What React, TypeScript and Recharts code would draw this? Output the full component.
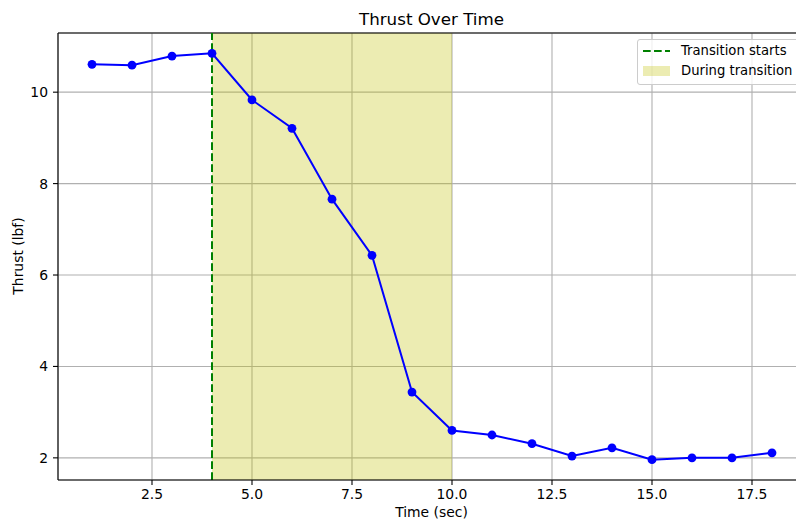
import { LineChart, Line, XAxis, YAxis, CartesianGrid, ReferenceLine, ReferenceArea } from 'recharts'

// ── Data ───────────────────────────────────────────────────────────────────

const times = [1, 2, 3, 4, 5, 6, 7, 8, 9, 10, 11, 12, 13, 14, 15, 16, 17, 18]
const thrust = [10.61, 10.59, 10.79, 10.85, 9.83, 9.21, 7.66, 6.43, 3.44, 2.6, 2.5, 2.31, 2.04, 2.22, 1.96, 2.0, 2.0, 2.11]
const xTicks = [2.5, 5.0, 7.5, 10.0, 12.5, 15.0, 17.5]
const yTicks = [2, 4, 6, 8, 10]
const transitionStart = 4
const transitionEnd = 10

const data = times.map((t, i) => ({ time: t, thrust: thrust[i] }))

const FONT = '"DejaVu Sans", sans-serif'
const X_DOMAIN: [number, number] = [0.15, 18.85]
const Y_DOMAIN: [number, number] = [1.5155, 11.2945]

function LegendBox() {
  return (
    <div style={{
      position: 'absolute', left: 637, top: 39, width: 170, height: 46,
      background: 'rgba(255,255,255,0.8)', border: '1px solid #cccccc', borderRadius: 3,
      fontFamily: FONT, fontSize: 13.2, color: '#000', boxSizing: 'border-box',
    }}>
      <div style={{ position: 'absolute', left: 5, top: 3, display: 'flex', alignItems: 'center', whiteSpace: 'nowrap' }}>
        <svg width={27} height={10}><line x1={0} y1={5} x2={27} y2={5} stroke="#008000" strokeWidth={2} strokeDasharray="7.7 3.3" /></svg>
        <span style={{ marginLeft: 11 }}>Transition starts</span>
      </div>
      <div style={{ position: 'absolute', left: 5, top: 23, display: 'flex', alignItems: 'center', whiteSpace: 'nowrap' }}>
        <div style={{ width: 27, height: 10, background: 'rgba(191,191,0,0.3)' }} />
        <span style={{ marginLeft: 11 }}>During transition</span>
      </div>
    </div>
  )
}

export default function App() {
  return (
    <div style={{ position: 'fixed', left: 0, top: 0, width: 796, height: 523, overflow: 'hidden', background: '#fff' }}>
      <LineChart width={810} height={523} data={data} margin={{ top: 33, left: 0, right: 4, bottom: 0 }}>
        <CartesianGrid stroke="#b0b0b0" strokeWidth={1.1} />
        <ReferenceArea x1={transitionStart} x2={transitionEnd} fill="#bfbf00" fillOpacity={0.3} stroke="none" />
        <XAxis
          dataKey="time" type="number" domain={X_DOMAIN} ticks={xTicks} allowDataOverflow
          height={43} tickSize={5} tickMargin={4} stroke="#000" strokeWidth={1.1}
          tick={{ fill: '#000', fontSize: 13.9, fontFamily: FONT }}
          tickFormatter={(v) => Number(v).toFixed(1)}
        />
        <YAxis
          type="number" domain={Y_DOMAIN} ticks={yTicks} allowDataOverflow
          width={58} tickSize={5} tickMargin={5} stroke="#000" strokeWidth={1.1}
          tick={{ fill: '#000', fontSize: 13.9, fontFamily: FONT }}
        />
        <ReferenceLine y={Y_DOMAIN[1]} stroke="#000" strokeWidth={1.1} />
        <ReferenceLine x={transitionStart} stroke="#008000" strokeWidth={2} strokeDasharray="7.7 3.3" />
        <Line
          dataKey="thrust" stroke="#0000ff" strokeWidth={2} isAnimationActive={false}
          dot={{ r: 4.4, fill: '#0000ff', stroke: '#0000ff', strokeWidth: 0 }}
        />
      </LineChart>
      <div style={{ position: 'absolute', left: 0, width: 863, top: 9, textAlign: 'center', fontFamily: FONT, fontSize: 16.7 }}>
        Thrust Over Time
      </div>
      <div style={{ position: 'absolute', left: 0, width: 863, top: 504, textAlign: 'center', fontFamily: FONT, fontSize: 13.9 }}>
        Time (sec)
      </div>
      <div style={{
        position: 'absolute', left: 18, top: 256, fontFamily: FONT, fontSize: 13.9, whiteSpace: 'nowrap',
        transform: 'translate(-50%, -50%) rotate(-90deg)',
      }}>
        Thrust (lbf)
      </div>
      <LegendBox />
    </div>
  )
}
